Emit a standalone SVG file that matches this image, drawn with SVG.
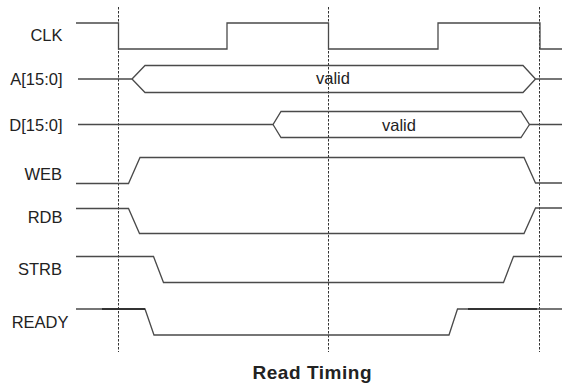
<svg xmlns="http://www.w3.org/2000/svg" width="564" height="385" viewBox="0 0 564 385">
<style>
.sig{fill:none;stroke:#4a4a4a;stroke-width:1.3;stroke-linejoin:miter}
.dark{fill:none;stroke:#1e1e1e;stroke-width:1.6}
.grid{fill:none;stroke:#333;stroke-width:1;stroke-dasharray:2.5,1.5}
.lbl{font-family:"Liberation Sans",Arial,sans-serif;font-size:16.5px;fill:#222;text-anchor:end}
.val{font-family:"Liberation Sans",Arial,sans-serif;font-size:16.5px;fill:#222;text-anchor:middle}
.title{font-family:"Liberation Sans",Arial,sans-serif;font-size:19px;font-weight:bold;fill:#222;text-anchor:middle}
</style>
<rect width="564" height="385" fill="#fff"/>
<g id="connectors">
<line class="grid" x1="118.5" y1="7" x2="118.5" y2="352"/>
<line class="grid" x1="328.5" y1="7" x2="328.5" y2="352"/>
<line class="grid" x1="539.5" y1="7" x2="539.5" y2="352"/>
</g>
<g id="clk">
<text class="lbl" x="62.5" y="41">CLK</text>
<polyline class="sig" points="76,23 118.5,23 118.5,49 227,49 227,23 328.5,23 328.5,49 438,49 438,23 540,23 540,49 562,49"/>
</g>
<g id="addr">
<text class="lbl" x="62.5" y="85">A[15:0]</text>
<polyline class="sig" points="78,79 132,79 145,65.5 523,65.5 535.5,79 562,79"/>
<polyline class="sig" points="132,79 145,92.5 523,92.5 535.5,79"/>
<text class="val" x="333" y="84">valid</text>
</g>
<g id="data">
<text class="lbl" x="62.5" y="130.5">D[15:0]</text>
<polyline class="sig" points="78,124.5 273,124.5 281,111.5 521,111.5 529.5,124.5 562,124.5"/>
<polyline class="sig" points="273,124.5 281,137.5 521,137.5 529.5,124.5"/>
<text class="val" x="399" y="130.5">valid</text>
</g>
<g id="web">
<text class="lbl" x="62" y="180">WEB</text>
<polyline class="sig" points="76,183.5 128.5,183.5 140,157.5 524,157.5 535.5,183 562,183"/>
</g>
<g id="rdb">
<text class="lbl" x="62.5" y="223">RDB</text>
<polyline class="sig" points="76,208.5 128.5,208.5 139.5,233.5 524,233.5 535.5,208 562,208"/>
</g>
<g id="strb">
<text class="lbl" x="62" y="275">STRB</text>
<polyline class="sig" points="76,256.5 153.5,256.5 163.5,282.5 503.5,282.5 513.5,256.5 562,256.5"/>
</g>
<g id="ready">
<text class="lbl" x="68.5" y="328">READY</text>
<polyline class="sig" points="76,309 145,309 154,335 449,335 457.5,309 562,309"/>
<line class="dark" x1="102" y1="309" x2="145" y2="309"/>
<line class="dark" x1="468" y1="309" x2="537" y2="309"/>
</g>
<g id="title">
<text class="title" x="312" y="378.5" textLength="119" lengthAdjust="spacing">Read Timing</text>
</g>
</svg>
